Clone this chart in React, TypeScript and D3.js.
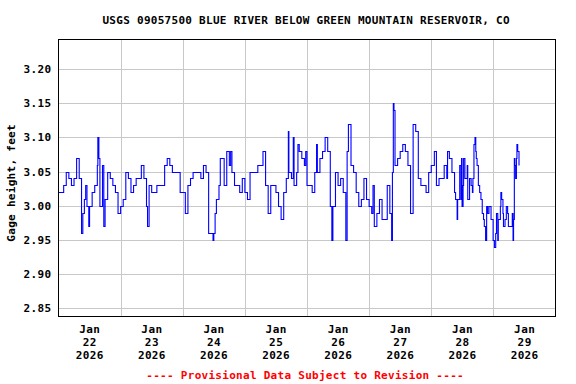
import React, { useEffect, useRef } from "react";
import * as d3 from "d3";

const title = "USGS 09057500 BLUE RIVER BELOW GREEN MOUNTAIN RESERVOIR, CO";
const yLabel = "Gage height, feet";
const footnote = "---- Provisional Data Subject to Revision ----";
const monthLabel = "Jan";
const yearLabel = "2026";
const dayLabels = ["22", "23", "24", "25", "26", "27", "28", "29"];
const yTicks = [2.85, 2.9, 2.95, 3.0, 3.05, 3.1, 3.15, 3.2];

// hours after Jan 22 2026 00:00, gage height (ft)
const readings: [number, number][] = [
  [0, 3.02], [1, 3.02], [2, 3.03], [3, 3.05], [4, 3.04], [5, 3.03], [6, 3.04], [7, 3.07],
  [8, 3.04], [8.9, 2.96], [9.4, 2.99], [10, 3.01], [10.5, 3.03], [11, 3.0], [11.7, 2.97],
  [12, 3.0], [13, 3.02], [14, 3.03], [15, 3.06], [15.2, 3.1], [15.6, 3.07], [16, 3.0],
  [17, 3.06], [17.5, 2.97], [18, 3.01], [19, 3.05], [20, 3.04], [21, 3.03], [22, 3.02],
  [23, 2.99], [24, 3.0], [25, 3.01], [26, 3.05], [27, 3.04], [28, 3.02], [29, 3.03],
  [30, 3.04], [31, 3.04], [32, 3.06], [33, 3.04], [34, 3.0], [34.4, 2.97], [35, 3.03],
  [36, 3.02], [37, 3.02], [38, 3.03], [39, 3.03], [40, 3.03], [41, 3.06], [42, 3.07],
  [43, 3.06], [44, 3.05], [45, 3.05], [46, 3.05], [47, 3.02], [48, 3.02], [49, 2.99],
  [50, 3.03], [51, 3.04], [52, 3.05], [53, 3.05], [54, 3.05], [55, 3.04], [56, 3.06],
  [57, 3.05], [58, 2.96], [59, 2.96], [59.7, 2.95], [60, 2.96], [60.5, 2.99], [61, 3.01],
  [62, 3.03], [62.5, 3.07], [63, 3.07], [64, 3.03], [65, 3.08], [66, 3.06], [66.5, 3.08],
  [67, 3.05], [68, 3.03], [69, 3.03], [70, 3.02], [71, 3.04], [72, 3.02], [73, 3.01],
  [74, 3.05], [75, 3.05], [76, 3.05], [77, 3.06], [78, 3.06], [79, 3.08], [80, 3.03],
  [81, 2.99], [82, 3.03], [83, 3.03], [84, 3.02], [85, 3.0], [86, 2.98], [87, 3.02],
  [88, 3.04], [88.8, 3.11], [89, 3.05], [90, 3.04], [90.7, 3.1], [91, 3.03], [92, 3.05],
  [92.5, 3.09], [93, 3.08], [94, 3.07], [95, 3.06], [95.5, 3.08], [96, 3.03], [97, 3.03],
  [98, 3.02], [99, 3.05], [99.7, 3.09], [100, 3.05], [101, 3.07], [102, 3.08], [103, 3.1],
  [104, 3.08], [105, 3.0], [105.6, 2.95], [106, 3.0], [107, 3.05], [108, 3.03], [109, 3.04],
  [110, 3.02], [111, 2.95], [111.5, 3.08], [112, 3.12], [113, 3.06], [114, 3.05], [115, 3.02],
  [116, 3.0], [117, 3.01], [118, 3.04], [119, 3.01], [120, 3.0], [121, 2.99], [121.5, 3.03],
  [122, 2.97], [123, 2.99], [124, 3.01], [125, 2.98], [126, 2.98], [127, 3.03], [128, 2.99],
  [128.7, 2.95], [129, 3.05], [129.35, 3.15], [129.6, 3.14], [130, 3.06], [131, 3.07],
  [132, 3.08], [133, 3.09], [134, 3.08], [135, 3.06], [136, 2.99], [137, 3.12], [138, 3.11],
  [139, 3.04], [140, 3.03], [141, 3.03], [142, 3.02], [143, 3.05], [144, 3.06], [145, 3.06],
  [145.2, 3.08], [146, 3.03], [147, 3.04], [148, 3.04], [149, 3.06], [150, 3.04],
  [150.3, 3.08], [151, 3.07], [152, 3.05], [153, 3.02], [153.4, 3.01], [154, 2.98],
  [154.2, 3.01], [155, 3.06], [155.5, 3.01], [155.7, 3.07], [155.9, 3.0], [156.3, 3.03],
  [156.5, 3.07], [157, 3.04], [157.9, 3.06], [158.1, 3.01], [158.8, 3.04], [159.4, 3.03],
  [159.9, 3.02], [160.1, 3.04], [160.5, 3.09], [160.9, 3.1], [161.2, 3.08], [161.4, 3.07],
  [161.7, 3.06], [162.2, 3.03], [162.7, 3.02], [163.2, 3.01], [163.7, 2.99], [164.2, 2.98],
  [164.5, 2.97], [165, 2.95], [165.4, 3.0], [165.8, 2.99], [166.3, 3.0], [167.1, 2.98],
  [167.9, 2.95], [168.4, 2.94], [168.9, 2.96], [169.2, 2.99], [169.7, 2.95], [169.9, 2.98],
  [170.7, 3.0], [170.9, 3.02], [171.2, 3.01], [171.7, 2.99], [171.9, 2.97], [172.5, 2.98],
  [173, 3.0], [173.5, 2.99], [173.8, 2.97], [174.7, 2.97], [175.3, 2.99], [175.6, 2.95],
  [175.8, 2.98], [176.1, 3.07], [176.3, 3.06], [176.6, 3.04], [176.9, 3.07], [177.1, 3.09],
  [177.4, 3.08], [177.9, 3.06],
];

const startMs = Date.UTC(2026, 0, 22);
const hourMs = 3600 * 1000;

const W = 576;
const H = 384;
const plot = { left: 58, right: 555, top: 39, bottom: 316 };
const FONT = "'DejaVu Sans Mono', monospace";
const CHAR_W = 6.9;

export default function App() {
  const ref = useRef<SVGSVGElement>(null);

  useEffect(() => {
    document.body.style.margin = "0";
    const svg = d3.select(ref.current);
    svg.selectAll("*").remove();

    const x = d3.scaleUtc()
      .domain([new Date(startMs), new Date(startMs + 8 * 24 * hourMs)])
      .range([plot.left + 0.5, plot.right + 0.5]);
    const y = d3.scaleLinear()
      .domain([2.8383, 3.2444])
      .range([plot.bottom, plot.top]);

    const txt = (sel: any, s: string) =>
      sel.attr("font-family", FONT).attr("font-weight", "bold").attr("font-size", 11)
        .attr("textLength", s.length * CHAR_W).attr("lengthAdjust", "spacing").text(s);

    // grid
    const grid = svg.append("g").attr("stroke", "#c8c8c8").attr("stroke-width", 1);
    grid.selectAll("line.h").data(yTicks).enter().append("line")
      .attr("x1", plot.left).attr("x2", plot.right)
      .attr("y1", d => Math.round(y(d)) + 0.5).attr("y2", d => Math.round(y(d)) + 0.5);
    const days = d3.range(1, 8).map(i => new Date(startMs + i * 24 * hourMs));
    grid.selectAll("line.v").data(days).enter().append("line")
      .attr("x1", d => Math.round(x(d)) + 0.5).attr("x2", d => Math.round(x(d)) + 0.5)
      .attr("y1", plot.top).attr("y2", plot.bottom);

    // data
    svg.append("clipPath").attr("id", "clip").append("rect")
      .attr("x", plot.left).attr("y", plot.top)
      .attr("width", plot.right - plot.left).attr("height", plot.bottom - plot.top);
    const line = d3.line<[number, number]>()
      .x(d => x(new Date(startMs + d[0] * hourMs)))
      .y(d => Math.round(y(d[1])) + 0.5)
      .curve(d3.curveStepAfter);
    svg.append("path").datum(readings)
      .attr("clip-path", "url(#clip)")
      .attr("fill", "none").attr("stroke", "#0000ff").attr("stroke-width", 1.1)
      .attr("d", line as any);

    // frame
    svg.append("rect")
      .attr("x", plot.left + 0.5).attr("y", plot.top + 0.5)
      .attr("width", plot.right - plot.left).attr("height", plot.bottom - plot.top)
      .attr("fill", "none").attr("stroke", "#000").attr("stroke-width", 1);

    // title
    txt(svg.append("text").attr("x", 306).attr("y", 24).attr("text-anchor", "middle"), title);

    // y tick labels
    yTicks.forEach(t => {
      const s = d3.format(".2f")(t);
      txt(svg.append("text").attr("x", 51).attr("y", y(t) + 4).attr("text-anchor", "end"), s);
    });

    // x tick labels
    dayLabels.forEach((d, i) => {
      const cx = x(new Date(startMs + (i * 24 + 12) * hourMs));
      txt(svg.append("text").attr("x", cx).attr("y", 333).attr("text-anchor", "middle"), monthLabel);
      txt(svg.append("text").attr("x", cx).attr("y", 346).attr("text-anchor", "middle"), d);
      txt(svg.append("text").attr("x", cx).attr("y", 359).attr("text-anchor", "middle"), yearLabel);
    });

    // y axis title
    txt(svg.append("text").attr("transform", "translate(15,183) rotate(-90)")
      .attr("text-anchor", "middle"), yLabel);

    // footnote
    txt(svg.append("text").attr("x", 305).attr("y", 379).attr("text-anchor", "middle")
      .attr("fill", "#ff0000"), footnote);
  }, []);

  return <svg ref={ref} width={W} height={H} style={{ display: "block", background: "#fff" }} />;
}
